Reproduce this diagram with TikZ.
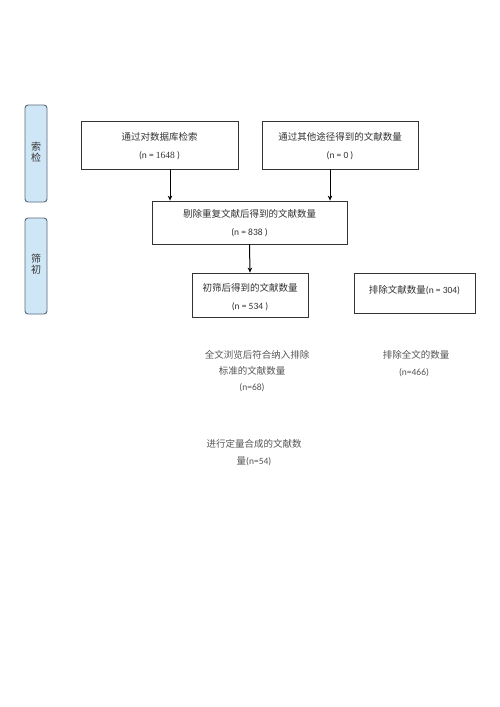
\documentclass[tikz,border=0pt]{standalone}
\usepackage{fontspec}
\setmainfont{Carlito}
\newfontfamily\cjk{Noto Sans CJK SC}
\newfontfamily\serifnum{Liberation Serif}
\usetikzlibrary{arrows.meta}
\definecolor{sidefill}{HTML}{CFE6F7}
\definecolor{sidedraw}{HTML}{5A6A7A}
\definecolor{boxtext}{HTML}{333333}
\definecolor{freetext}{HTML}{555555}
\tikzset{
  sidebox/.style={draw=sidedraw, fill=sidefill, rounded corners=3pt, line width=0.9pt, inner sep=0pt},
  flowbox/.style={draw=black!80, line width=0.8pt, inner sep=0pt},
  boxlabel/.style={text=boxtext, font=\fontsize{9.5}{18}\selectfont, align=center, inner sep=0pt},
  freelabel/.style={text=freetext, font=\fontsize{9.5}{17}\selectfont, align=center, inner sep=0pt},
  sidelabel/.style={text=boxtext, font=\cjk\fontsize{10}{11}\selectfont, align=center, inner sep=0pt},
  arr/.style={-{Stealth[length=5pt,width=4.5pt]}, line width=1pt, black}
}
\begin{document}
\begin{tikzpicture}[x=1pt,y=-1pt]
\useasboundingbox[fill=white] (0,0) rectangle (500,707);
% side boxes
\node[sidebox, minimum width=22pt, minimum height=97pt] (s1) at (36,153.5) {};
\node[sidelabel] (s1t) at (36,152) {索\\检};
\node[sidebox, minimum width=22pt, minimum height=96pt] (s2) at (36,266) {};
\node[sidelabel] (s2t) at (36,264) {筛\\初};
% flow boxes
\node[flowbox, minimum width=157pt, minimum height=48pt] (b1) at (159.5,145) {};
\node[boxlabel] (b1t) at (159.5,146) {{\cjk 通过对数据库检索}\\(n = {\serifnum 1648} )};
\node[flowbox, minimum width=156pt, minimum height=48pt] (b2) at (340,145) {};
\node[boxlabel] (b2t) at (340,146) {{\cjk 通过其他途径得到的文献数量}\\(n = 0 )};
\node[flowbox, minimum width=195pt, minimum height=43pt] (b3) at (249.5,222.5) {};
\node[boxlabel] (b3t) at (249.5,223.5) {{\cjk 剔除重复文献后得到的文献数量}\\(n = 838 )};
\node[flowbox, minimum width=116pt, minimum height=44pt] (b4) at (250,295) {};
\node[boxlabel] (b4t) at (250,297.5) {{\cjk 初筛后得到的文献数量}\\(n = 534 )};
\node[flowbox, minimum width=121pt, minimum height=40pt] (b5) at (414.5,293) {};
\node[boxlabel] (b5t) at (414.5,290) {{\cjk 排除文献数量}(n = 304)};
% free texts
\node[freelabel] (f1a) at (257,355) {\cjk 全文浏览后符合纳入排除};
\node[freelabel] (f1b) at (252,371) {\cjk 标准的文献数量};
\node[freelabel] (f1c) at (252,388) {(n=68)};
\node[freelabel] (f2a) at (416,355) {\cjk 排除全文的数量};
\node[freelabel] (f2b) at (414,373) {(n=466)};
\node[freelabel] (f3a) at (254,444) {\cjk 进行定量合成的文献数};
\node[freelabel] (f3b) at (254,461) {{\cjk 量}(n=54)};
% arrows
\coordinate (x1) at (170,0);
\coordinate (x2) at (330,0);
\draw[arr] (b1.south -| x1) -- (b3.north -| x1);
\draw[arr] (b2.south -| x2) -- (b3.north -| x2);
\draw[arr] (b3.south) -- (b4.north);
\end{tikzpicture}
\end{document}
